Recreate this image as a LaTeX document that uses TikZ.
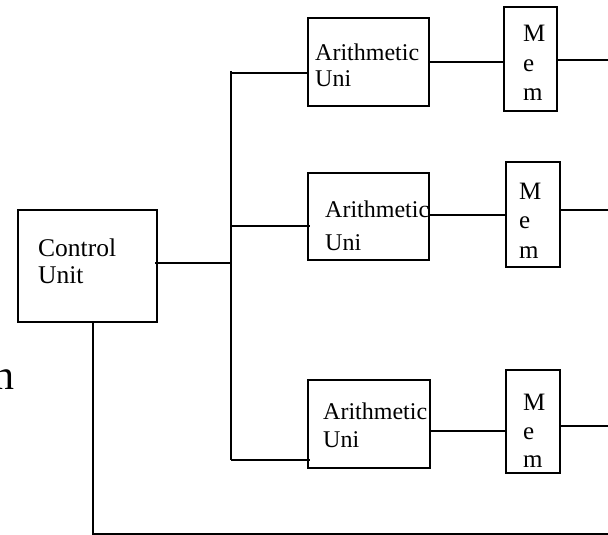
\documentclass[tikz,border=0pt]{standalone}
\usepackage{fontspec}
\setmainfont{Liberation Serif}
\begin{document}
\begin{tikzpicture}[x=1pt,y=-1pt,
  boxn/.style={draw,line width=2.2pt,inner sep=0pt,minimum width=#1},
  ln/.style={line width=1.9pt},
  txt/.style={inner sep=0pt,anchor=base west,font=\fontsize{24}{24}\selectfont},
  memtxt/.style={inner sep=0pt,anchor=base west,font=\fontsize{25}{25}\selectfont}]
\useasboundingbox (0,0) rectangle (608,535);
% boxes
\node[boxn=139pt,minimum height=112pt] (cu) at (87.5,266) {};
\node[boxn=121pt,minimum height=88pt] (au1) at (368.5,62) {};
\node[boxn=53pt,minimum height=104pt] (mem1) at (530.5,59) {};
\node[boxn=121pt,minimum height=87pt] (au2) at (368.5,216.5) {};
\node[boxn=54pt,minimum height=105pt] (mem2) at (533,214.5) {};
\node[boxn=122pt,minimum height=88pt] (au3) at (369,424) {};
\node[boxn=54pt,minimum height=103pt] (mem3) at (533,421.5) {};
% texts
\node[txt,font=\fontsize{25.5}{25.5}\selectfont] (cut1) at (38,256) {Control};
\node[txt,font=\fontsize{25.5}{25.5}\selectfont] (cut2) at (38,283) {Unit};
\node[txt] (a1t1) at (315,60) {Arithmetic};
\node[txt] (a1t2) at (315,87) {Uni};
\node[txt] (a2t1) at (325,217) {Arithmetic};
\node[txt] (a2t2) at (325,250) {Uni};
\node[txt] (a3t1) at (323,419) {Arithmetic};
\node[txt] (a3t2) at (323,447) {Uni};
\node[memtxt] (m1a) at (523,42) {M};
\node[memtxt] (m1b) at (523,71) {e};
\node[memtxt] (m1c) at (523,100) {m};
\node[memtxt] (m2a) at (519,199) {M};
\node[memtxt] (m2b) at (519,228) {e};
\node[memtxt] (m2c) at (519,258) {m};
\node[memtxt] (m3a) at (523,410) {M};
\node[memtxt] (m3b) at (523,439) {e};
\node[memtxt] (m3c) at (523,467) {m};
\node[inner sep=0pt,anchor=base east,font=\fontsize{42}{42}\selectfont] (nn) at (15,389) {n};
% coordinates
\coordinate (btop) at (231,71);
\coordinate (bmid) at (231,263);
\coordinate (bbot) at (231,460);
\coordinate (b1) at (231,73);
\coordinate (b2) at (231,226);
\coordinate (r1) at (608,60);
\coordinate (r2) at (608,210);
\coordinate (r3) at (608,426);
\coordinate (cb) at (93,534);
\coordinate (rb) at (608,534);
% connectors
\draw[ln] (btop) -- (bbot);
\draw[ln] ([xshift=-3pt]cu.east |- bmid) -- (bmid);
\draw[ln] (b1) -- (au1.west |- b1);
\draw[ln] (b2) -- ([xshift=3pt]au2.west |- b2);
\draw[ln] (bbot) -- ([xshift=3pt]au3.west |- bbot);
\draw[ln] (au1.east |- 0,62) -- (mem1.west |- 0,62);
\draw[ln] (mem1.east |- r1) -- (r1);
\draw[ln] (au2.east |- 0,215) -- (mem2.west |- 0,215);
\draw[ln] (mem2.east |- r2) -- (r2);
\draw[ln] (au3.east |- 0,431) -- (mem3.west |- 0,431);
\draw[ln] (mem3.east |- r3) -- (r3);
\draw[ln] (cu.south -| cb) -- (cb) -- (rb);
\end{tikzpicture}
\end{document}
